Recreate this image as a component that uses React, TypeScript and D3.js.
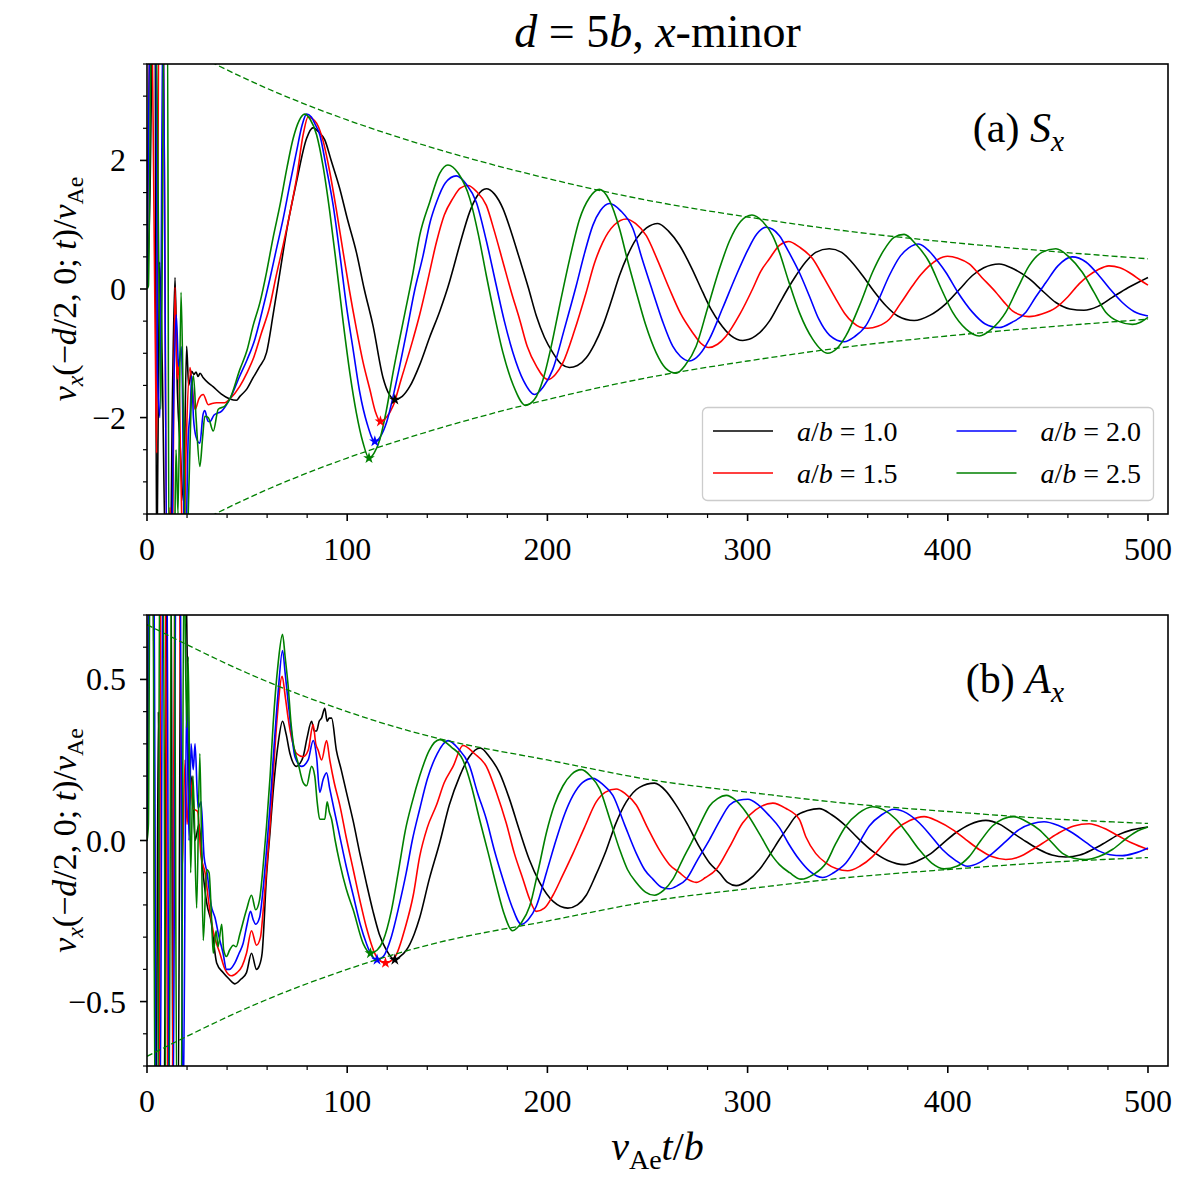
import React, { useEffect, useRef } from "react";
import * as d3 from "d3";

type Pt = [number, number];
type Seg = { s: string; it?: boolean; sub?: boolean };

const ratioLabels = ["1.0", "1.5", "2.0", "2.5"];
const lineColors = ["#000000", "#ff0000", "#0000ff", "#008000"];

// panel (a): S_x
const symBlack: Pt[] = [
  [0, 0], [1.5, 1.5], [3, 4.5], [4, 4.5], [4.8, -4.5], [5.5, -2.3], [6.3, 0.42], [7.5, -1.0], [9.5, -4.5], [11.5, -4.5],
  [12.8, -1.5], [14, 0.18], [15.2, -1.6], [16.5, -2.4], [18.2, -3.3], [19.8, -0.89], [20.8, -1.5], [22.3, -1.28], [23.5, -1.33],
  [24.5, -1.29], [25.5, -1.36], [26.5, -1.31], [28.1, -1.38], [30.6, -1.46], [33, -1.52], [37, -1.63], [41.4, -1.71], [44.7, -1.73],
  [46.4, -1.67], [50, -1.55], [53, -1.38], [56, -1.22], [59.7, -0.99], [63, -0.4], [66.4, 0.26], [70, 0.95], [74.7, 1.67],
  [79.7, 2.34], [83, 2.51], [85.5, 2.45], [88.8, 2.32], [92, 2.0], [96.3, 1.56], [100, 1.1], [104.6, 0.57], [108.5, 0.0],
  [112.9, -0.57], [117.9, -1.38], [121, -1.64], [123.8, -1.72], [127.5, -1.67], [131.2, -1.52], [136.2, -1.18], [141.2, -0.75],
  [146.2, -0.35], [151, 0.1], [152.8, 0.3], [156.5, 0.72], [161.2, 1.2], [165, 1.45], [169.5, 1.56], [173.5, 1.48], [177.8, 1.25],
  [182, 0.88], [186.1, 0.47], [190.5, 0.02], [194.5, -0.42], [198.5, -0.75], [202.7, -0.99], [207, -1.17], [211, -1.22],
  [215, -1.19], [219.4, -1.07], [223.5, -0.86], [227.7, -0.57], [232, -0.18], [236, 0.21], [240, 0.52], [244.4, 0.78],
  [249.5, 0.95], [255.2, 1.02], [260.5, 0.9], [266, 0.68], [272, 0.33], [277.6, -0.05], [282, -0.33], [285.9, -0.52],
  [291.5, -0.72], [297.6, -0.8], [304, -0.73], [310.9, -0.5], [316, -0.22], [320, 0.0], [324.2, 0.21], [329, 0.42], [334, 0.57],
  [340.8, 0.625], [347, 0.57], [352, 0.42], [357.4, 0.21], [363, -0.03], [369.1, -0.26], [375, -0.42], [383.2, -0.49],
  [391, -0.41], [399, -0.23], [406, 0], [412.3, 0.21], [418, 0.33], [425.6, 0.39], [433, 0.31], [440.6, 0.16], [447, -0.02],
  [454, -0.21], [461, -0.31], [468, -0.33], [475, -0.27], [482.2, -0.13], [490, 0.02], [495, 0.1], [500, 0.18],
];
const symRed: Pt[] = [
  [0, 0], [2, 4.5], [4.2, -1.0], [4.8, -2.55], [6, 4.5], [8, 4.5], [10, -4.5], [11.5, -3.4], [12.5, -4.5], [14, 0.03], [15, -1.4],
  [15.6, -1.12], [17, -3], [18.1, -4.5], [19.5, -2.5], [21.5, -1.22], [22.5, -1.5], [24, -1.875], [26, -1.7], [28.1, -1.64],
  [30.6, -1.8], [32.5, -1.78], [34.8, -1.77], [38.9, -1.77], [41.4, -1.71], [46.4, -1.51], [50, -1.3], [53, -1.09], [57, -0.7],
  [61.4, -0.26], [64.5, 0.2], [68, 0.68], [71.5, 1.2], [74.7, 1.72], [78, 2.4], [80.5, 2.68], [82.5, 2.65], [84.7, 2.58],
  [88, 2.3], [91.3, 1.82], [94.5, 1.25], [98, 0.57], [101, 0], [104.6, -0.62], [108, -1.15], [111.3, -1.56], [114, -1.9],
  [116.6, -2.06], [119.5, -2.0], [122.9, -1.82], [127, -1.4], [132.9, -0.78], [136.2, -0.4], [140, 0.1], [144.6, 0.73],
  [148.5, 1.15], [152.8, 1.41], [156.5, 1.57], [160.3, 1.61], [164.5, 1.52], [169.5, 1.3], [173.5, 0.9], [177.8, 0.42],
  [182, -0.05], [186.1, -0.47], [190, -0.9], [194.5, -1.2], [200.3, -1.41], [204, -1.33], [207.7, -1.15], [213.5, -0.65],
  [219.4, -0.05], [223.5, 0.4], [227.7, 0.73], [233.5, 1.0], [239.4, 1.09], [244, 1.02], [249.4, 0.83], [255, 0.45], [261, 0],
  [266.5, -0.38], [272.6, -0.68], [276.5, -0.84], [280.6, -0.91], [285, -0.86], [289.3, -0.73], [296, -0.4], [302.5, 0],
  [306.5, 0.27], [310.9, 0.47], [315.9, 0.68], [320.5, 0.74], [326, 0.65], [332.5, 0.47], [338, 0.18], [344.2, -0.16],
  [348.5, -0.38], [352.5, -0.52], [356, -0.59], [360, -0.61], [365, -0.58], [370.8, -0.47], [376.5, -0.22], [382.4, 0.05],
  [386.5, 0.22], [390.7, 0.36], [395, 0.46], [399.9, 0.51], [405, 0.48], [410.7, 0.39], [417, 0.18], [424, -0.05], [428, -0.2],
  [432.3, -0.34], [436, -0.4], [440.6, -0.43], [447, -0.39], [454, -0.29], [460, -0.12], [465.6, 0.08], [470, 0.2], [475, 0.3],
  [480.5, 0.36], [486, 0.33], [492, 0.23], [496, 0.14], [500, 0.06],
];
const symBlue: Pt[] = [
  [0, 0], [2, 4.5], [4.5, 4.5], [5.2, -1.3], [6.5, -2.0], [8, 4.5], [10, -4.5], [12, -4.5], [13.5, -1.4], [14.6, -0.4],
  [15.8, -1.2], [17.2, -0.9], [19, -4.5], [20.6, -2.3], [21.6, -1.9], [22.3, -1.35], [23.2, -2.0], [24.5, -2.3], [26.4, -2.4],
  [28, -1.95], [28.9, -1.89], [30.5, -2.06], [31.4, -2.06], [33.5, -1.96], [37.3, -1.9], [41.4, -1.71], [46.4, -1.35],
  [50, -1.1], [53.9, -0.78], [57.5, -0.35], [61.4, 0.16], [64.5, 0.6], [68, 1.09], [71.5, 1.65], [74.7, 2.14], [77.5, 2.55],
  [79.7, 2.72], [82, 2.68], [84, 2.56], [86.3, 2.4], [89.5, 1.9], [93, 1.3], [96.5, 0.5], [99.6, -0.26], [103, -0.95],
  [106.3, -1.61], [110, -2.1], [113.8, -2.37], [116.5, -2.3], [119.6, -2.08], [124.5, -1.45], [129.6, -0.68], [133.5, -0.05],
  [137.9, 0.52], [141.5, 1.05], [144.6, 1.35], [149, 1.65], [154.5, 1.76], [159.5, 1.63], [164.5, 1.35], [169.5, 0.75],
  [174.5, 0.05], [178.5, -0.5], [182.8, -0.99], [188, -1.42], [193.6, -1.64], [198, -1.52], [202.7, -1.25], [208.5, -0.62],
  [214.4, 0.05], [218.5, 0.55], [222.7, 0.99], [226.5, 1.22], [231, 1.33], [236.5, 1.22], [242.7, 0.94], [247.5, 0.45],
  [252.7, -0.05], [257.5, -0.5], [262.6, -0.89], [266.5, -1.05], [271, -1.12], [276, -1.02], [280.9, -0.78], [287.5, -0.3],
  [294.3, 0.21], [300, 0.6], [304.5, 0.85], [309.2, 0.96], [312.5, 0.93], [315.9, 0.83], [320.5, 0.58], [325.8, 0.26],
  [331, -0.12], [335.6, -0.47], [341, -0.72], [348.3, -0.82], [353.5, -0.74], [359.1, -0.57], [365, -0.2], [370.8, 0.21],
  [376, 0.5], [380.5, 0.64], [385.4, 0.7], [391, 0.58], [395, 0.43], [399, 0.26], [405, -0.05], [412.3, -0.36], [418.5, -0.54],
  [425.6, -0.6], [432, -0.52], [439, -0.36], [444, -0.12], [449, 0.1], [455, 0.36], [462.2, 0.5], [469, 0.42], [475.5, 0.21],
  [481, 0], [487.2, -0.21], [493, -0.35], [500, -0.42],
];
const symGreen: Pt[] = [
  [0, 0], [0.7, 0.05], [2.3, 4.5], [4.2, 4.5], [7, -1.87], [8.5, 4.5], [10.2, 4.5], [11, -4.5], [13.5, -4.5], [14.5, -2.5],
  [15.5, -3.5], [17, -0.05], [18.2, -2], [19.5, -4.5], [21, -3.0], [22.3, -1.6], [23.2, -1.35], [24.5, -2.0], [26.4, -2.76],
  [27.8, -2.3], [28.9, -1.98], [30.6, -2.0], [33.1, -2.21], [35.6, -1.87], [38.9, -1.82], [41.4, -1.71], [46.4, -1.25],
  [50, -0.95], [53, -0.57], [56.5, -0.2], [59.7, 0.26], [63, 0.8], [66.4, 1.3], [70, 1.9], [73, 2.34], [76, 2.62], [78.8, 2.72],
  [81.5, 2.64], [84.7, 2.4], [88, 1.9], [91.3, 1.2], [94.5, 0.4], [98, -0.52], [101.3, -1.3], [104.6, -1.93], [107.8, -2.38],
  [110.9, -2.63], [113.5, -2.55], [116.3, -2.34], [119.5, -1.9], [122.9, -1.3], [128, -0.5], [132.9, 0.26], [136.2, 0.83],
  [141.2, 1.35], [146.2, 1.8], [150.3, 1.93], [155.5, 1.8], [161.2, 1.41], [165.5, 0.85], [169.5, 0.21], [173.5, -0.4],
  [177.8, -0.99], [183, -1.5], [189.1, -1.81], [193.5, -1.72], [197.8, -1.41], [202, -0.88], [206.1, -0.26], [211, 0.45],
  [216.1, 1.09], [221, 1.42], [226, 1.55], [231, 1.38], [236, 0.94], [240, 0.45], [244.4, -0.05], [249, -0.55], [254.3, -0.99],
  [259, -1.23], [264.3, -1.31], [269, -1.18], [274.3, -0.89], [280, -0.3], [285.9, 0.31], [291, 0.75], [296.5, 1.05],
  [302.2, 1.15], [307.5, 1.05], [312.5, 0.83], [315.9, 0.57], [320.5, 0.12], [325.8, -0.36], [332.5, -0.78], [340, -1.0],
  [344.5, -0.93], [349.1, -0.73], [356, -0.25], [362.4, 0.26], [368, 0.6], [373, 0.8], [378.2, 0.85], [384, 0.7], [390.7, 0.42],
  [396.5, 0.02], [402.4, -0.36], [409, -0.62], [415.7, -0.73], [422, -0.62], [429, -0.36], [435, 0.02], [440.6, 0.36],
  [447, 0.57], [454, 0.625], [460.5, 0.5], [467.2, 0.26], [473, -0.05], [478.9, -0.36], [485, -0.5], [492.2, -0.55],
  [496, -0.52], [500, -0.44],
];

// panel (b): A_x
const asymBlack: Pt[] = [
  [0, 0], [1.5, 0.9], [3, 0.9], [4.5, -0.9], [5.7, 0.4], [6.5, -0.9], [8.5, -0.9], [10, 0.9], [12, 0.9], [13, -0.9],
  [15.5, -0.9], [17, 0.9], [18.5, 0.9], [19.8, 0.7], [21, 0.1], [22.5, 0.2], [24, 0.0], [26, 0.05], [28, -0.1], [30, -0.2],
  [32, -0.25], [34.8, -0.38], [38, -0.41], [41, -0.43], [43.9, -0.445], [47, -0.43], [49.7, -0.41], [52.2, -0.35], [54.7, -0.4],
  [56, -0.39], [57.5, -0.35], [59.7, -0.11], [61.5, 0.03], [63, 0.15], [65.5, 0.3], [67.7, 0.37], [69.5, 0.33], [71.4, 0.27],
  [74.7, 0.23], [76.5, 0.24], [78, 0.26], [80, 0.32], [82.2, 0.37], [83.5, 0.34], [84.7, 0.34], [86, 0.37], [87.2, 0.38],
  [88.8, 0.41], [90, 0.37], [91, 0.38], [92.2, 0.38], [94.6, 0.28], [97, 0.22], [99.6, 0.15], [103, 0.06], [106.3, -0.04],
  [109.5, -0.13], [112.9, -0.22], [116, -0.29], [119.6, -0.34], [123.8, -0.37], [126.5, -0.36], [129.6, -0.34],
  [133.5, -0.29], [136.2, -0.24], [141, -0.12], [146.2, -0.007], [151, 0.11], [156.2, 0.2], [161, 0.26], [166.5, 0.287],
  [171, 0.26], [176.1, 0.21], [181, 0.13], [186.1, 0.03], [191, -0.06], [196.1, -0.13], [203, -0.19], [210.2, -0.21],
  [215, -0.2], [219.4, -0.17], [224, -0.11], [229.4, -0.03], [234, 0.05], [239.4, 0.12], [246, 0.165], [253.5, 0.178],
  [259, 0.155], [264.3, 0.11], [270, 0.05], [275.9, -0.02], [281, -0.07], [285.9, -0.1], [290, -0.13], [294.3, -0.14],
  [300, -0.125], [305.9, -0.09], [311, -0.045], [315.9, 0.003], [320, 0.04], [324.2, 0.076], [330, 0.093], [335.8, 0.099],
  [342, 0.08], [349.1, 0.045], [355, 0.008], [362.4, -0.033], [370, -0.062], [378.2, -0.075], [385, -0.063], [390.7, -0.044],
  [397, -0.012], [404, 0.024], [411, 0.05], [419, 0.0625], [426, 0.05], [432.3, 0.024], [439, -0.003], [445.6, -0.028],
  [452, -0.045], [458.9, -0.051], [466, -0.045], [472.3, -0.028], [479, -0.005], [485.6, 0.019], [492, 0.033], [500, 0.042],
];
const asymRed: Pt[] = [
  [0, 0], [1.2, 0.9], [3, 0.9], [4.3, -0.9], [6, -0.9], [7, 0.9], [9, 0.9], [10.5, -0.9], [12.5, -0.9], [14, 0.9], [16, 0.9],
  [17.5, -0.1], [19, 0.25], [20, 0.05], [21.5, 0.2], [23, 0.1], [25.3, 0.09], [27, -0.05], [29, -0.1], [31, -0.2], [33, -0.28],
  [36.4, -0.35], [39, -0.4], [42.2, -0.42], [45, -0.41], [47.5, -0.39], [49.7, -0.35], [52.2, -0.28], [54.7, -0.325],
  [56.7, -0.3], [58, -0.22], [59.7, -0.09], [61.5, 0.05], [63, 0.2], [65, 0.38], [67.5, 0.51], [69, 0.45], [70.5, 0.38],
  [72.5, 0.31], [74.7, 0.27], [78, 0.26], [80.5, 0.28], [83, 0.36], [84.3, 0.3], [85.5, 0.28], [87.2, 0.25], [89.7, 0.31],
  [91.3, 0.25], [93.5, 0.18], [96.3, 0.11], [99.5, 0.01], [103, -0.09], [106.5, -0.19], [109.6, -0.27], [114.6, -0.36],
  [119.1, -0.38], [124, -0.36], [129, -0.27], [133, -0.17], [136.2, -0.05], [140, 0.04], [144.6, 0.11], [148.5, 0.18],
  [152.9, 0.23], [157.8, 0.295], [163.5, 0.27], [169.5, 0.23], [174.5, 0.15], [179.4, 0.055], [183.5, -0.04], [187.8, -0.12],
  [191, -0.18], [194.4, -0.22], [198.5, -0.21], [202.8, -0.17], [207.5, -0.11], [212.8, -0.04], [218.5, 0.04], [224.4, 0.12],
  [229, 0.15], [234.4, 0.16], [239, 0.145], [244.4, 0.11], [250, 0.04], [256, -0.03], [261, -0.075], [266, -0.1], [270, -0.12],
  [274.3, -0.13], [279, -0.115], [284.3, -0.09], [291, -0.02], [297.6, 0.055], [304, 0.095], [312.6, 0.116], [319, 0.1],
  [325.8, 0.066], [329.2, 0.01], [334, -0.04], [339.2, -0.07], [344.5, -0.088], [350, -0.094], [356, -0.08], [362.4, -0.05],
  [368, -0.01], [374.1, 0.034], [381, 0.062], [388.2, 0.074], [395, 0.06], [402.4, 0.034], [409, 0.003], [415.7, -0.028],
  [422, -0.05], [429, -0.059], [436, -0.05], [442.3, -0.028], [449, -0.002], [455.6, 0.024], [463, 0.045], [470.6, 0.052],
  [478, 0.038], [485.6, 0.013], [492, -0.008], [500, -0.028],
];
const asymBlue: Pt[] = [
  [0, 0], [1.5, 0.9], [3.5, 0.9], [4.5, -0.9], [6.5, -0.9], [8, 0.9], [10, 0.9], [11, -0.9], [13, -0.9], [14.5, 0.9],
  [16.5, 0.9], [18, -0.9], [19.8, 0.445], [21, 0.0], [22, 0.3], [23.1, 0.22], [24, 0.3], [25.5, 0.1], [27, 0.12], [28.5, -0.05],
  [30, -0.1], [32, -0.2], [34, -0.24], [36, -0.3], [38, -0.35], [39.7, -0.4], [41.3, -0.4], [43.9, -0.38], [46, -0.35],
  [48, -0.32], [50, -0.26], [51.7, -0.22], [53, -0.245], [54.3, -0.26], [56.2, -0.24], [58, -0.15], [59.7, -0.03], [61.5, 0.11],
  [63, 0.25], [65.5, 0.46], [67.7, 0.59], [69, 0.52], [70.5, 0.43], [72.3, 0.33], [73.9, 0.26], [77.2, 0.23], [80.5, 0.25],
  [83, 0.31], [84.7, 0.26], [86.3, 0.15], [88, 0.19], [89.7, 0.21], [91.3, 0.16], [94, 0.08], [96.3, 0.013], [99.5, -0.08],
  [103, -0.17], [106.5, -0.26], [109.6, -0.32], [112.5, -0.36], [114.9, -0.37], [118, -0.36], [122, -0.3], [126, -0.2],
  [129.5, -0.1], [132.5, 0], [136.2, 0.097], [140, 0.19], [145, 0.27], [150.4, 0.31], [155.5, 0.285], [161.2, 0.23],
  [165, 0.15], [169.5, 0.066], [173.5, -0.03], [177.8, -0.12], [182, -0.2], [187, -0.26], [190.5, -0.245], [194.4, -0.205],
  [199.5, -0.1], [204.4, 0.003], [208.5, 0.08], [212.8, 0.14], [217.5, 0.18], [222.7, 0.193], [227.5, 0.175], [232.7, 0.14],
  [238.5, 0.05], [244.4, -0.04], [248.5, -0.09], [252.7, -0.12], [257, -0.145], [261, -0.15], [265, -0.14], [269.4, -0.12],
  [275, -0.06], [281, 0.003], [286, 0.06], [291, 0.11], [295.5, 0.125], [300.2, 0.128], [305.5, 0.11], [311, 0.076],
  [315.9, 0.04], [320.5, -0.01], [325.9, -0.06], [331, -0.095], [337.5, -0.115], [343, -0.1], [349.1, -0.07], [355, -0.015],
  [360.8, 0.045], [367, 0.08], [373.2, 0.097], [379.5, 0.085], [385.7, 0.055], [391.5, 0.015], [397.3, -0.028], [403.5, -0.06],
  [409.8, -0.08], [416, -0.068], [422.3, -0.04], [429, -0.003], [435.6, 0.034], [442, 0.052], [448.1, 0.058], [455, 0.047],
  [462.2, 0.024], [469, -0.006], [475.6, -0.033], [481, -0.044], [487.3, -0.047], [493, -0.04], [500, -0.023],
];
const asymGreen: Pt[] = [
  [0, 0], [0.7, 0.05], [1.5, 0.9], [3, 0.9], [4, -0.9], [5.5, -0.9], [6.3, 0.9], [8, 0.9], [9.5, -0.9], [11, -0.9], [12.2, 0.9],
  [13.5, 0.9], [15, -0.9], [17, -0.9], [18.5, 0.9], [19.8, 0.35], [20.6, 0.57], [21.8, -0.1], [23, 0.2], [24.8, -0.21],
  [26.4, 0.27], [28.1, -0.31], [29.8, -0.09], [31, -0.1], [32.3, -0.25], [33.1, -0.35], [34.5, -0.28], [35.5, -0.33],
  [37.3, -0.26], [38.3, -0.34], [39.7, -0.36], [41.3, -0.34], [43.1, -0.325], [44.5, -0.33], [46.4, -0.29], [49.7, -0.215],
  [52.2, -0.17], [54.3, -0.215], [56.2, -0.185], [58, -0.08], [59.7, 0.045], [61.5, 0.2], [63, 0.36], [65.5, 0.55], [67.7, 0.64],
  [69, 0.57], [70.5, 0.48], [72, 0.36], [73, 0.305], [75.5, 0.24], [78, 0.18], [79.7, 0.17], [82.2, 0.23], [83.8, 0.2],
  [85, 0.12], [86.3, 0.066], [88.8, 0.066], [90, 0.12], [91, 0.09], [92.2, 0.066], [94, 0.0], [96.3, -0.07], [99.5, -0.15],
  [103, -0.215], [108, -0.32], [111.6, -0.35], [115, -0.34], [118, -0.31], [122, -0.22], [126, -0.08], [129, 0.03],
  [132.5, 0.12], [136.2, 0.2], [141, 0.28], [146.2, 0.313], [152, 0.29], [157.8, 0.25], [162, 0.17], [166.1, 0.066],
  [170.5, -0.04], [174.5, -0.14], [178.5, -0.23], [182.5, -0.28], [187, -0.255], [191.1, -0.205], [195.5, -0.09],
  [199.5, 0.024], [203.5, 0.11], [207.8, 0.17], [212, 0.205], [217, 0.22], [221.5, 0.2], [226.1, 0.16], [231, 0.07],
  [236.1, -0.028], [240, -0.09], [244.4, -0.13], [249, -0.16], [253.5, -0.17], [258, -0.155], [262.7, -0.12], [267.5, -0.06],
  [272.7, 0.003], [277, 0.06], [281, 0.107], [285, 0.13], [289.4, 0.14], [294, 0.125], [299.3, 0.087], [306, 0.02],
  [312.6, -0.05], [315.9, -0.075], [321, -0.1], [326.7, -0.12], [333, -0.105], [339.2, -0.07], [344, -0.01], [349.1, 0.045],
  [355.5, 0.085], [362.4, 0.105], [368, 0.095], [374.1, 0.066], [380, 0.02], [385.7, -0.028], [392, -0.07], [398.2, -0.088],
  [404.5, -0.08], [410.7, -0.05], [416.5, 0.0], [422.3, 0.045], [427.5, 0.067], [433.1, 0.074], [439, 0.06], [445.6, 0.034],
  [451.5, -0.003], [457.3, -0.04], [463, -0.055], [468.9, -0.059], [475.5, -0.05], [482.2, -0.028], [490, 0.01], [495, 0.03],
  [500, 0.042],
];

// first minima (star markers), ordered a/b = 1.0, 1.5, 2.0, 2.5
const symMinima: Pt[] = [[123.8, -1.72], [116.6, -2.06], [113.8, -2.37], [110.9, -2.63]];
const asymMinima: Pt[] = [[123.8, -0.37], [119.1, -0.38], [114.9, -0.37], [111.6, -0.35]];

// damping envelope read at fixed times
const envTimes = [0, 50, 100, 150, 200, 250, 300, 350, 400, 450, 500];
const symEnvelope = [4.05, 3.26, 2.63, 2.13, 1.72, 1.38, 1.12, 0.9, 0.73, 0.59, 0.47];
const asymEnvelope = [0.67, 0.52, 0.4, 0.31, 0.25, 0.19, 0.15, 0.115, 0.09, 0.068, 0.053];

const xTicks = [0, 100, 200, 300, 400, 500];
const symTicks = [-2, 0, 2];
const asymTicks = [-0.5, 0, 0.5];

const FONT = "'Liberation Serif', 'Times New Roman', serif";

function mathText(sel: any, segs: Seg[], fs: number) {
  let down = false;
  segs.forEach((seg) => {
    const ts = sel.append("tspan").text(seg.s);
    if (seg.it) ts.attr("font-style", "italic");
    if (seg.sub) {
      ts.attr("font-size", fs * 0.7);
      if (!down) ts.attr("dy", fs * 0.22);
      down = true;
    } else if (down) {
      ts.attr("dy", -fs * 0.22);
      down = false;
    }
  });
}

const yLabelSegs: Seg[] = [
  { s: "v", it: true }, { s: "x", it: true, sub: true }, { s: "(−" }, { s: "d", it: true }, { s: "/2, 0; " },
  { s: "t", it: true }, { s: ")/" }, { s: "v", it: true }, { s: "Ae", sub: true },
];

export default function App() {
  const ref = useRef<SVGSVGElement>(null);

  useEffect(() => {
    const svg = d3.select(ref.current);
    svg.selectAll("*").remove();

    const left = 147;
    const right = 1168;
    const x = d3.scaleLinear().domain([0, 510]).range([left, right]);

    svg
      .append("text")
      .attr("x", (left + right) / 2)
      .attr("y", 47)
      .attr("text-anchor", "middle")
      .attr("font-size", 46)
      .call((t: any) =>
        mathText(t, [{ s: "d", it: true }, { s: " = 5" }, { s: "b", it: true }, { s: ", " }, { s: "x", it: true }, { s: "-minor" }], 46)
      );

    const panels = [
      {
        id: "a", top: 64, bottom: 514, domain: [-3.5, 3.5], majors: symTicks, minors: d3.range(-7, 8).map((i) => i * 0.5),
        fmt: d3.format("d"), series: [symBlack, symRed, symBlue, symGreen], minima: symMinima, env: symEnvelope,
        label: [{ s: "(a) " }, { s: "S", it: true }, { s: "x", it: true, sub: true }] as Seg[], legend: true,
      },
      {
        id: "b", top: 615, bottom: 1066, domain: [-0.7, 0.7], majors: asymTicks, minors: d3.range(-7, 8).map((i) => i / 10),
        fmt: d3.format(".1f"), series: [asymBlack, asymRed, asymBlue, asymGreen], minima: asymMinima, env: asymEnvelope,
        label: [{ s: "(b) " }, { s: "A", it: true }, { s: "x", it: true, sub: true }] as Seg[], legend: false,
      },
    ];

    panels.forEach((p) => {
      const y = d3.scaleLinear().domain(p.domain).range([p.bottom, p.top]);
      const g = svg.append("g");

      g.append("clipPath")
        .attr("id", `clip-${p.id}`)
        .append("rect")
        .attr("x", left)
        .attr("y", p.top)
        .attr("width", right - left)
        .attr("height", p.bottom - p.top);

      const plot = g.append("g").attr("clip-path", `url(#clip-${p.id})`);
      const line = d3
        .line<Pt>()
        .x((d) => x(d[0]))
        .y((d) => y(d[1]))
        .curve(d3.curveMonotoneX);

      p.series.forEach((s, i) => {
        plot
          .append("path")
          .attr("d", line(s))
          .attr("fill", "none")
          .attr("stroke", lineColors[i])
          .attr("stroke-width", 1.6)
          .attr("stroke-linejoin", "round");
      });

      const star = d3.symbol().type(d3.symbolStar).size(42);
      p.minima.forEach((m, i) => {
        plot
          .append("path")
          .attr("d", star())
          .attr("transform", `translate(${x(m[0])},${y(m[1])})`)
          .attr("fill", lineColors[i]);
      });

      const envLine = d3
        .line<number>()
        .x((_, i) => x(envTimes[i]))
        .y((d) => y(d))
        .curve(d3.curveNatural);
      [p.env, p.env.map((v) => -v)].forEach((e) => {
        plot
          .append("path")
          .attr("d", envLine(e))
          .attr("fill", "none")
          .attr("stroke", "#008000")
          .attr("stroke-width", 1.3)
          .attr("stroke-dasharray", "6 3");
      });

      // frame
      g.append("rect")
        .attr("x", left)
        .attr("y", p.top)
        .attr("width", right - left)
        .attr("height", p.bottom - p.top)
        .attr("fill", "none")
        .attr("stroke", "#000")
        .attr("stroke-width", 1.6);

      // x ticks
      d3.range(0, 26).map((i) => i * 20).forEach((v) => {
        const major = v % 100 === 0;
        g.append("line")
          .attr("x1", x(v)).attr("x2", x(v))
          .attr("y1", p.bottom).attr("y2", p.bottom + (major ? 7 : 4))
          .attr("stroke", "#000").attr("stroke-width", major ? 1.6 : 1.2);
      });
      xTicks.forEach((v) => {
        g.append("text")
          .attr("x", x(v)).attr("y", p.bottom + 46)
          .attr("text-anchor", "middle").attr("font-size", 32)
          .text(String(v));
      });

      // y ticks
      p.minors.forEach((v) => {
        const major = p.majors.some((m) => Math.abs(m - v) < 1e-9);
        g.append("line")
          .attr("x1", left).attr("x2", left - (major ? 7 : 4))
          .attr("y1", y(v)).attr("y2", y(v))
          .attr("stroke", "#000").attr("stroke-width", major ? 1.6 : 1.2);
      });
      p.majors.forEach((v) => {
        g.append("text")
          .attr("x", 126).attr("y", y(v) + 11)
          .attr("text-anchor", "end").attr("font-size", 32)
          .text(p.fmt(v));
      });

      // y label
      g.append("text")
        .attr("transform", `translate(76,${(p.top + p.bottom) / 2}) rotate(-90)`)
        .attr("text-anchor", "middle")
        .attr("font-size", 34)
        .call((t: any) => mathText(t, yLabelSegs, 34));

      // panel tag
      g.append("text")
        .attr("x", 1064)
        .attr("y", p.top + 78)
        .attr("text-anchor", "end")
        .attr("font-size", 42)
        .call((t: any) => mathText(t, p.label, 42));

      if (p.legend) {
        const lg = g.append("g");
        lg.append("rect")
          .attr("x", 702.5).attr("y", 407.5)
          .attr("width", 451).attr("height", 93)
          .attr("rx", 5)
          .attr("fill", "#fff").attr("fill-opacity", 0.8)
          .attr("stroke", "#cccccc").attr("stroke-width", 1.3);
        ratioLabels.forEach((r, i) => {
          const col = Math.floor(i / 2);
          const row = i % 2;
          const lx = col === 0 ? 713 : 956.5;
          const ly = row === 0 ? 431 : 473;
          lg.append("line")
            .attr("x1", lx).attr("x2", lx + 60)
            .attr("y1", ly).attr("y2", ly)
            .attr("stroke", lineColors[i]).attr("stroke-width", 1.6);
          lg.append("text")
            .attr("x", lx + 84).attr("y", ly + 10)
            .attr("font-size", 28)
            .call((t: any) =>
              mathText(t, [{ s: "a", it: true }, { s: "/" }, { s: "b", it: true }, { s: " = " + r }], 28)
            );
        });
      }
    });

    svg
      .append("text")
      .attr("x", (left + right) / 2)
      .attr("y", 1160)
      .attr("text-anchor", "middle")
      .attr("font-size", 40)
      .call((t: any) =>
        mathText(t, [{ s: "v", it: true }, { s: "Ae", sub: true }, { s: "t", it: true }, { s: "/" }, { s: "b", it: true }], 40)
      );
  }, []);

  return (
    <svg
      ref={ref}
      width={1200}
      height={1180}
      style={{ position: "absolute", left: 0, top: 0, background: "#fff" }}
      fontFamily={FONT}
    />
  );
}
